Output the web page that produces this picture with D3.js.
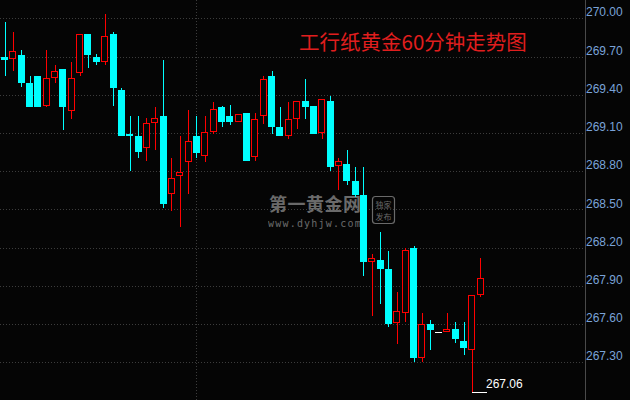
<!DOCTYPE html>
<html>
<head>
<meta charset="utf-8">
<script src="https://cdn.jsdelivr.net/npm/d3@7"></script>
<style>
  html, body { margin: 0; padding: 0; background: #050505; }
  svg { display: block; }
</style>
</head>
<body>
<svg id="chart" width="630" height="400"></svg>
<script>
// ---- data ----
const openV  = [269.70,269.68,269.71,269.49,269.55,269.31,269.53,269.60,269.27,269.57,
                269.88,269.70,269.66,269.88,269.44,269.09,269.08,268.98,269.18,269.23,
                268.62,268.76,268.87,269.08,268.92,269.11,269.30,269.23,269.19,269.26,
                268.91,269.23,269.55,269.15,269.08,269.21,269.35,269.31,269.10,269.35,
                268.84,268.86,268.72,268.61,268.09,268.10,268.03,267.61,267.69,268.20,
                267.33,267.60,267.54,267.54,267.56,267.47,267.40,267.83];
const highV  = [269.97,269.89,269.75,269.55,269.55,269.75,269.63,269.60,269.66,269.88,
                269.88,269.72,270.03,269.89,269.45,269.23,269.23,269.22,269.30,269.67,
                268.90,269.08,269.28,269.23,269.23,269.34,269.31,269.32,269.25,269.26,
                269.26,269.55,269.59,269.30,269.34,269.35,269.52,269.31,269.37,269.39,
                268.90,268.97,268.83,268.83,268.15,268.32,268.17,267.85,268.20,268.21,
                267.69,267.63,267.54,267.69,267.62,267.62,267.83,268.12];
const lowV   = [269.55,269.59,269.46,269.30,269.30,269.30,269.49,269.12,269.21,269.55,
                269.61,269.63,269.63,269.31,269.08,268.80,268.90,268.88,268.97,268.51,
                268.49,268.36,268.62,268.90,268.87,269.09,269.15,269.16,269.19,268.88,
                268.88,269.17,269.09,269.08,269.05,269.13,269.21,269.09,269.05,268.80,
                268.65,268.69,268.60,267.98,267.66,267.76,267.58,267.44,267.62,267.30,
                267.30,267.40,267.54,267.54,267.45,267.36,267.06,267.81];
const closeV = [269.67,269.74,269.49,269.30,269.30,269.53,269.59,269.30,269.53,269.88,
                269.71,269.66,269.86,269.45,269.08,269.08,268.95,269.18,269.22,268.54,
                268.75,268.79,269.04,268.94,269.11,269.29,269.19,269.19,269.25,268.88,
                269.21,269.52,269.15,269.08,269.21,269.35,269.30,269.09,269.37,268.83,
                268.88,268.72,268.61,268.09,268.12,268.03,267.60,267.70,268.18,267.33,
                267.60,267.55,267.54,267.56,267.48,267.41,267.83,267.96];
const tickValues = [270.00,269.70,269.40,269.10,268.80,268.50,268.20,267.90,267.60,267.30];
const titleText = "工行纸黄金60分钟走势图";
const lowMarkValue = 267.06;
const lowMarkIndex = 56;
const daySplitIndex = 23;

// ---- drawing ----
const W = 630, H = 400, axisX = 585;
const svg = d3.select("#chart");
svg.append("rect").attr("width", W).attr("height", H).attr("fill", "#050505");

const y = d3.scaleLinear().domain([267.30, 270.00]).range([362.3, 18.3]);
const x = d3.scaleLinear().domain([0, openV.length - 1]).range([4.5, 480.3]);
const bodyW = 7;
const px = v => Math.round(v) + 0.5;

// horizontal dotted gridlines
svg.append("g").selectAll("line").data(tickValues).join("line")
  .attr("x1", 0).attr("x2", axisX)
  .attr("y1", d => px(y(d))).attr("y2", d => px(y(d)))
  .attr("stroke", "#3c3c3c").attr("stroke-dasharray", "1,2");

// vertical dotted separator
svg.append("line")
  .attr("x1", px(x(daySplitIndex))).attr("x2", px(x(daySplitIndex)))
  .attr("y1", 0).attr("y2", H)
  .attr("stroke", "#3c3c3c").attr("stroke-dasharray", "1,2");

// watermark
const wm = svg.append("g").attr("opacity", 0.75);
wm.append("text").attr("x", 269).attr("y", 211)
  .attr("font-family", "'Noto Sans CJK SC', sans-serif").attr("font-weight", "bold")
  .attr("font-size", 18).attr("fill", "#8c8c8c").attr("letter-spacing", 0.5)
  .text("第一黄金网");
wm.append("text").attr("x", 268).attr("y", 226.5)
  .attr("font-family", "'DejaVu Sans Mono', monospace")
  .attr("font-size", 10).attr("fill", "#8c8c8c").attr("letter-spacing", 1.2)
  .text("www.dyhjw.com");
wm.append("rect").attr("x", 372.5).attr("y", 196.5).attr("width", 22).attr("height", 27)
  .attr("rx", 3).attr("fill", "none").attr("stroke", "#8c8c8c").attr("stroke-width", 1.2);
wm.append("text").attr("x", 383.5).attr("y", 207.5).attr("text-anchor", "middle")
  .attr("font-family", "'Noto Sans CJK SC', sans-serif").attr("font-size", 8).attr("fill", "#8c8c8c")
  .text("独家");
wm.append("text").attr("x", 383.5).attr("y", 219.5).attr("text-anchor", "middle")
  .attr("font-family", "'Noto Sans CJK SC', sans-serif").attr("font-size", 8).attr("fill", "#8c8c8c")
  .text("发布");

// candles
const candles = d3.range(openV.length).map(i => ({
  i, o: openV[i], h: highV[i], l: lowV[i], c: closeV[i]
}));
const colorOf = d => d.c > d.o ? "#ff0000" : (d.c < d.o ? "#00ffff" : "#ffffff");

const g = svg.append("g");
candles.forEach(d => {
  const cx = px(x(d.i));
  const col = colorOf(d);
  const left = Math.round(x(d.i) - bodyW / 2);
  const yTop = Math.round(y(Math.max(d.o, d.c)));
  const yBot = Math.round(y(Math.min(d.o, d.c)));
  if (d.h !== d.l) {
    g.append("line").attr("x1", cx).attr("x2", cx)
      .attr("y1", Math.round(y(d.h))).attr("y2", Math.round(y(d.l)))
      .attr("stroke", col).attr("stroke-width", 1);
  }
  if (d.c > d.o) {
    g.append("rect").attr("x", left + 0.5).attr("y", yTop + 0.5)
      .attr("width", bodyW - 1).attr("height", Math.max(1, yBot - yTop - 1))
      .attr("fill", "#050505").attr("stroke", col).attr("stroke-width", 1);
  } else {
    g.append("rect").attr("x", left).attr("y", yTop)
      .attr("width", bodyW).attr("height", Math.max(1, yBot - yTop))
      .attr("fill", col);
  }
});

// low marker
const lmY = px(y(lowMarkValue)) - 1;
svg.append("line").attr("x1", Math.round(x(lowMarkIndex))).attr("x2", Math.round(x(lowMarkIndex)) + 15)
  .attr("y1", lmY).attr("y2", lmY).attr("stroke", "#ffffff").attr("stroke-width", 1);
svg.append("text").attr("x", 486).attr("y", 388)
  .attr("font-family", "'Liberation Sans', Arial, sans-serif").attr("font-size", 12)
  .attr("fill", "#ffffff").text(lowMarkValue.toFixed(2));

// right axis
svg.append("line").attr("x1", axisX + 0.5).attr("x2", axisX + 0.5)
  .attr("y1", 0).attr("y2", H).attr("stroke", "#4a4a4a");
const axis = d3.axisRight(y).tickValues(tickValues).tickSize(0).tickPadding(1)
  .tickFormat(d3.format(".2f"));
const ag = svg.append("g").attr("transform", `translate(${axisX},0)`).call(axis);
ag.select(".domain").remove();
ag.selectAll("text")
  .attr("fill", "#7aa3d8")
  .attr("font-family", "'Liberation Sans', Arial, sans-serif")
  .attr("font-size", 12)
  .attr("dy", "-0.2em");

// title
svg.append("text").attr("x", 299).attr("y", 50)
  .attr("font-family", "'Noto Sans CJK SC', sans-serif").attr("font-size", 20.5)
  .attr("fill", "#e01e1e").text(titleText);
</script>
</body>
</html>
